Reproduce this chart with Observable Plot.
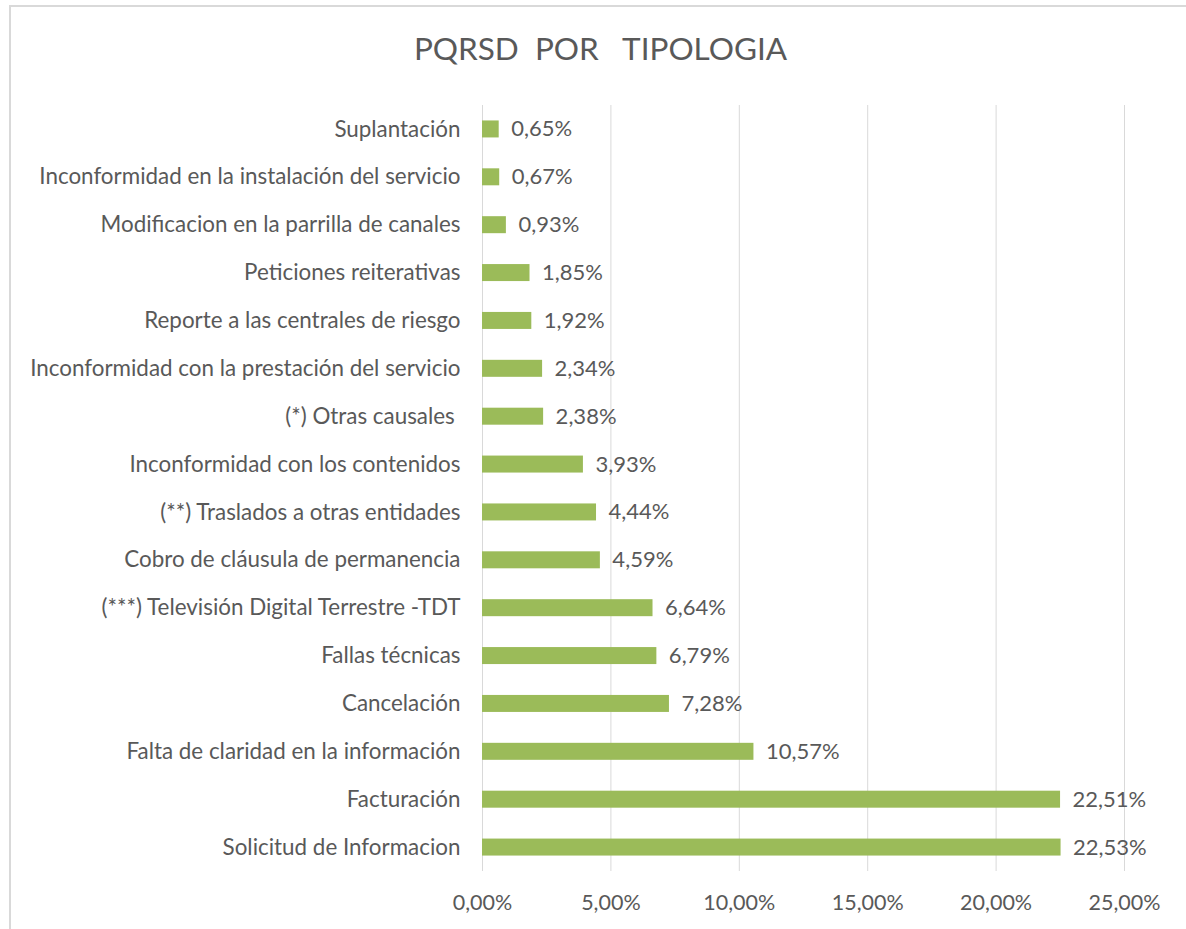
<!DOCTYPE html>
<html>
<head>
<meta charset="utf-8">
<script src="https://cdn.jsdelivr.net/npm/d3@7"></script>
<script src="https://cdn.jsdelivr.net/npm/@observablehq/plot@0.6"></script>
<style>
  html, body { margin: 0; padding: 0; background: #fff; }
  #wrap { position: relative; width: 1186px; height: 929px; overflow: hidden; font-family: Lato, "Open Sans", sans-serif; }
  #frame { position: absolute; left: 9px; top: 5px; width: 1300px; height: 1000px; border-left: 2px solid #d9d9d9; border-top: 2px solid #d9d9d9; }
  #title { position: absolute; left: 0; width: 1201px; top: 29px; text-align: center; font-size: 31.5px; color: #595959; white-space: pre; }
  #chart { position: absolute; left: 0; top: 0; }
</style>
</head>
<body>
<div id="wrap">
  <div id="frame"></div>
  <div id="title">PQRSD  POR   TIPOLOGIA</div>
  <div id="chart"></div>
</div>
<script>
const categories = [
  "Suplantación",
  "Inconformidad en la instalación del servicio",
  "Modificacion en la parrilla de canales",
  "Peticiones reiterativas",
  "Reporte a las centrales de riesgo",
  "Inconformidad con la prestación del servicio",
  "(*) Otras causales ",
  "Inconformidad con los contenidos",
  "(**) Traslados a otras entidades",
  "Cobro de cláusula de permanencia",
  "(***) Televisión Digital Terrestre -TDT",
  "Fallas técnicas",
  "Cancelación",
  "Falta de claridad en la información",
  "Facturación",
  "Solicitud de Informacion"
];
const values = [0.65, 0.67, 0.93, 1.85, 1.92, 2.34, 2.38, 3.93, 4.44, 4.59, 6.64, 6.79, 7.28, 10.57, 22.51, 22.53];
const xTicks = [0, 5, 10, 15, 20, 25];

const data = categories.map((c, i) => ({category: c, value: values[i]}));
const fmt = v => v.toFixed(2).replace(".", ",") + "%";

const chart = Plot.plot({
  width: 1186,
  height: 929,
  marginLeft: 482,
  marginRight: 62,
  marginTop: 105,
  marginBottom: 58,
  style: {fontFamily: "Lato, 'Open Sans', sans-serif", fontSize: "21.5px", color: "#595959", background: "transparent"},
  x: {domain: [0, 25], ticks: xTicks, tickFormat: fmt, tickSize: 0, tickPadding: 23, label: null},
  y: {domain: categories, paddingInner: 0.645, paddingOuter: 0.3225, round: false, tickSize: 0, tickPadding: 22, label: null},
  marks: [
    Plot.gridX(xTicks, {stroke: "#d9d9d9", strokeOpacity: 1, strokeWidth: 1}),
    Plot.barX(data, {x: "value", y: "category", fill: "#9bbb59"}),
    Plot.axisY({tickSize: 0, tickPadding: 22, fontSize: 22.4, fill: "#595959"}),
    Plot.text(data, {x: "value", y: "category", text: d => fmt(d.value), textAnchor: "start", dx: 12, fill: "#595959", fontSize: 22})
  ]
});
document.getElementById("chart").appendChild(chart);
</script>
</body>
</html>
